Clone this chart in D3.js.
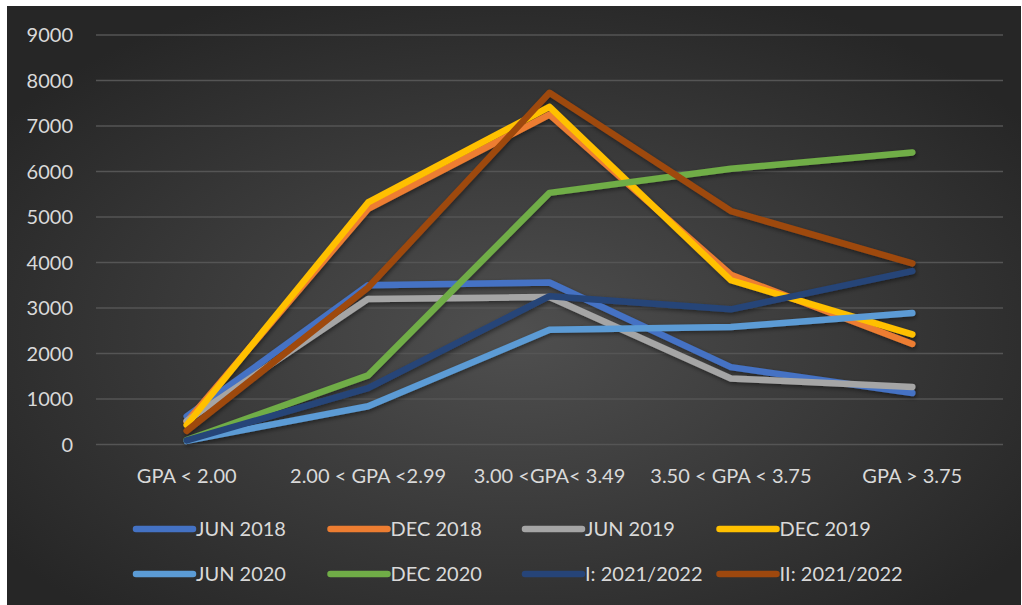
<!DOCTYPE html>
<html>
<head>
<meta charset="utf-8">
<script src="https://cdn.jsdelivr.net/npm/d3@7"></script>
<style>
  body { margin: 0; background: #fff; }
  svg { display: block; }
  text { font-family: Lato, "Open Sans", sans-serif; fill: #d9d9d9; }
</style>
</head>
<body>
<div id="container"></div>
<script>
/* DATA */
const categories = ["GPA < 2.00", "2.00 < GPA <2.99", "3.00 <GPA< 3.49", "3.50 < GPA < 3.75", "GPA > 3.75"];
const seriesNames = ["JUN 2018", "DEC 2018", "JUN 2019", "DEC 2019", "JUN 2020", "DEC 2020", "I: 2021/2022", "II: 2021/2022"];
const jun2018 = [620, 3500, 3560, 1700, 1130];
const dec2018 = [500, 5180, 7250, 3730, 2210];
const jun2019 = [520, 3200, 3240, 1450, 1265];
const dec2019 = [430, 5320, 7420, 3610, 2420];
const jun2020 = [80, 840, 2520, 2580, 2890];
const dec2020 = [100, 1520, 5530, 6060, 6420];
const i2122 = [90, 1240, 3260, 2970, 3810];
const ii2122 = [300, 3450, 7730, 5130, 3980];
const yTicks = [0, 1000, 2000, 3000, 4000, 5000, 6000, 7000, 8000, 9000];
const colors = ["#4472C4", "#ED7D31", "#A5A5A5", "#FFC000", "#5B9BD5", "#70AD47", "#264478", "#9E480E"];

const series = [jun2018, dec2018, jun2019, dec2019, jun2020, dec2020, i2122, ii2122]
  .map((values, i) => ({ name: seriesNames[i], values, color: colors[i] }));

/* LAYOUT */
const width = 1022, height = 605;
const margin = { top: 35, bottom: 160, left: 96, right: 19 };
const fontSize = 20;

const svg = d3.select("#container")
  .append("svg")
  .attr("width", width)
  .attr("height", height);

const defs = svg.append("defs");
const grad = defs.append("radialGradient")
  .attr("id", "bg")
  .attr("cx", "50%").attr("cy", "55%").attr("r", "62%");
grad.append("stop").attr("offset", "0%").attr("stop-color", "#4f4f4f");
grad.append("stop").attr("offset", "100%").attr("stop-color", "#262626");

const shadow = defs.append("filter")
  .attr("id", "shadow")
  .attr("x", "-10%").attr("y", "-10%").attr("width", "120%").attr("height", "130%");
shadow.append("feDropShadow")
  .attr("dx", 1).attr("dy", 2).attr("stdDeviation", 2)
  .attr("flood-color", "#000").attr("flood-opacity", 0.45);

// chart area background
svg.append("rect")
  .attr("x", 7).attr("y", 6)
  .attr("width", 1014).attr("height", 599)
  .attr("fill", "url(#bg)");

const x = d3.scalePoint()
  .domain(categories)
  .range([margin.left, width - margin.right])
  .padding(0.5);

const y = d3.scaleLinear()
  .domain([0, 9000])
  .range([444.5, margin.top]);

// gridlines
svg.append("g")
  .selectAll("line")
  .data(yTicks)
  .join("line")
  .attr("x1", margin.left)
  .attr("x2", width - margin.right)
  .attr("y1", d => y(d))
  .attr("y2", d => y(d))
  .attr("stroke", "#555")
  .attr("stroke-width", 1.5);

// y axis labels
svg.append("g")
  .selectAll("text")
  .data(yTicks)
  .join("text")
  .attr("x", 73)
  .attr("y", d => y(d))
  .attr("dy", "0.35em")
  .attr("text-anchor", "end")
  .attr("font-size", fontSize)
  .text(d => d);

// x axis labels
svg.append("g")
  .selectAll("text")
  .data(categories)
  .join("text")
  .attr("x", d => x(d))
  .attr("y", 476)
  .attr("dy", "0.35em")
  .attr("text-anchor", "middle")
  .attr("font-size", fontSize)
  .text(d => d);

// lines
const lineGen = d3.line()
  .x((d, i) => x(categories[i]))
  .y(d => y(d));

svg.append("g")
  .attr("filter", "url(#shadow)")
  .selectAll("path")
  .data(series)
  .join("path")
  .attr("d", d => lineGen(d.values))
  .attr("fill", "none")
  .attr("stroke", d => d.color)
  .attr("stroke-width", 6.5)
  .attr("stroke-linecap", "round")
  .attr("stroke-linejoin", "round");

// legend
const legend = svg.append("g")
  .selectAll("g")
  .data(series)
  .join("g")
  .attr("transform", (d, i) => `translate(${136 + (i % 4) * 194.5}, ${i < 4 ? 529 : 574})`);

legend.append("line")
  .attr("x1", 0).attr("x2", 57)
  .attr("stroke", d => d.color)
  .attr("stroke-width", 6.5)
  .attr("stroke-linecap", "round");

legend.append("text")
  .attr("x", 60)
  .attr("dy", "0.35em")
  .attr("font-size", fontSize)
  .text(d => d.name);
</script>
</body>
</html>
